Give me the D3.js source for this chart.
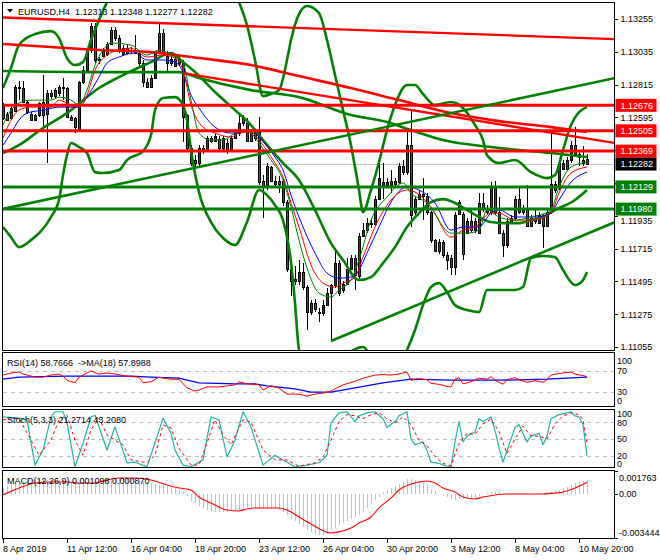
<!DOCTYPE html>
<html><head><meta charset="utf-8">
<script src="https://cdn.jsdelivr.net/npm/d3@7/dist/d3.min.js"></script>
<style>
html,body{margin:0;padding:0;background:#fff}
svg{display:block}
text{font-family:"Liberation Sans",Arial,sans-serif;font-size:9px;fill:#000;white-space:pre}
</style></head><body>
<svg id="chart" width="660" height="560"></svg>
<script>
// ---------------- DATA ----------------
const timeLabels = ["8 Apr 2019","11 Apr 12:00","16 Apr 04:00","18 Apr 20:00","23 Apr 12:00","26 Apr 04:00","30 Apr 20:00","3 May 12:00","8 May 04:00","10 May 20:00"];
const priceTicks = [1.13255,1.13035,1.12815,1.12595,1.12375,1.12155,1.11935,1.11715,1.11495,1.11275,1.11055];
const resistance = [1.12676,1.12505,1.12369];
const support = [1.12129,1.11980];
const lastPrice = 1.12282;

const open = [1.1267,1.1262,1.1259,1.1264,1.1279,1.1279,1.1270,1.1262,1.1258,1.1261,
1.1270,1.1262,1.1276,1.1274,1.1276,1.1279,1.1279,1.1260,1.1259,1.1252,
1.1283,1.1291,1.1305,1.1321,1.1299,1.1301,1.1302,1.1309,1.1318,1.1313,
1.1302,1.1306,1.1304,1.1305,1.1303,1.1296,1.1283,1.1280,1.1286,1.1303,
1.1316,1.1301,1.1296,1.1294,1.1299,1.1296,1.1261,1.1239,1.1231,1.1229,
1.1237,1.1237,1.1246,1.1244,1.1245,1.1239,1.1242,1.1238,1.1246,1.1249,
1.1259,1.1256,1.1250,1.1250,1.1250,1.1217,1.1213,1.1226,1.1217,1.1217,
1.1217,1.1203,1.1158,1.1150,1.1150,1.1156,1.1146,1.1129,1.1135,1.1128,
1.1128,1.1134,1.1142,1.1147,1.1162,1.1144,1.1148,1.1158,1.1165,1.1153,
1.1180,1.1184,1.1189,1.1188,1.1205,1.1214,1.1216,1.1214,1.1217,1.1216,
1.1227,1.1223,1.1241,1.1196,1.1205,1.1208,1.1207,1.1196,1.1177,1.1170,
1.1176,1.1167,1.1165,1.1159,1.1195,1.1195,1.1182,1.1190,1.1184,1.1182,
1.1202,1.1199,1.1196,1.1213,1.1196,1.1182,1.1174,1.1189,1.1192,1.1205,
1.1198,1.1198,1.1187,1.1190,1.1189,1.1194,1.1187,1.1196,1.1215,1.1212,
1.1225,1.1225,1.1231,1.1241,1.1235,1.1231,1.12313];
const high = [1.1269,1.1263,1.1267,1.1281,1.1284,1.1284,1.1271,1.1263,1.1262,1.1270,
1.1288,1.1278,1.1278,1.1279,1.1281,1.1286,1.1280,1.1261,1.1260,1.1284,
1.1294,1.1306,1.1323,1.1323,1.1300,1.1306,1.1310,1.1320,1.1320,1.1315,
1.1308,1.1308,1.1307,1.1315,1.1304,1.1298,1.1286,1.1288,1.1304,1.1323,
1.1319,1.1304,1.1301,1.1301,1.1301,1.1298,1.1262,1.1241,1.1234,1.1241,
1.1241,1.1247,1.1247,1.1249,1.1247,1.1247,1.1245,1.1247,1.1252,1.1261,
1.1261,1.1259,1.1252,1.1252,1.1260,1.1221,1.1229,1.1227,1.1220,1.1220,
1.1219,1.1204,1.1164,1.1160,1.1164,1.1162,1.1147,1.1137,1.1138,1.1132,
1.1137,1.1145,1.1148,1.1172,1.1164,1.1150,1.1165,1.1167,1.1167,1.1182,
1.1189,1.1192,1.1192,1.1207,1.1229,1.1229,1.1219,1.1224,1.1219,1.1229,
1.1231,1.1250,1.1264,1.1207,1.1211,1.1219,1.1209,1.1197,1.1178,1.1178,
1.1177,1.1169,1.1167,1.1196,1.1204,1.1196,1.1192,1.1199,1.1192,1.1209,
1.1209,1.1201,1.1216,1.1217,1.1206,1.1184,1.1192,1.1194,1.1207,1.1212,
1.1201,1.1214,1.1194,1.1198,1.1196,1.1195,1.1198,1.1251,1.1217,1.1231,
1.1231,1.1233,1.1244,1.1253,1.1237,1.1240,1.12348];
const low = [1.1258,1.1257,1.1258,1.1263,1.1271,1.1269,1.1262,1.1258,1.1257,1.1260,
1.1253,1.1229,1.1272,1.1272,1.1274,1.1271,1.1259,1.1257,1.1249,1.1252,
1.1282,1.1290,1.1303,1.1296,1.1295,1.1300,1.1301,1.1308,1.1311,1.1303,
1.1301,1.1302,1.1302,1.1302,1.1294,1.1280,1.1279,1.1279,1.1285,1.1302,
1.1301,1.1290,1.1294,1.1293,1.1294,1.1243,1.1237,1.1227,1.1226,1.1227,
1.1235,1.1236,1.1242,1.1243,1.1236,1.1237,1.1235,1.1237,1.1245,1.1247,
1.1254,1.1243,1.1243,1.1244,1.1214,1.1192,1.1211,1.1216,1.1213,1.1209,
1.1200,1.1156,1.1140,1.1147,1.1147,1.1144,1.1117,1.1127,1.1129,1.1122,
1.1126,1.1133,1.1109,1.1145,1.1140,1.1142,1.1147,1.1157,1.1144,1.1151,
1.1179,1.1182,1.1185,1.1187,1.1204,1.1205,1.1212,1.1209,1.1213,1.1215,
1.1221,1.1221,1.1186,1.1194,1.1204,1.1191,1.1194,1.1175,1.1169,1.1168,
1.1165,1.1157,1.1154,1.1154,1.1194,1.1164,1.1181,1.1182,1.1182,1.1181,
1.1196,1.1194,1.1194,1.1194,1.1181,1.1166,1.1172,1.1188,1.1190,1.1195,
1.1194,1.1186,1.1186,1.1188,1.1188,1.1172,1.1186,1.1195,1.1209,1.1211,
1.1224,1.1224,1.1229,1.1233,1.1227,1.1227,1.12277];
const close = [1.1259,1.1258,1.1266,1.1280,1.1280,1.1270,1.1263,1.1258,1.1261,1.1269,
1.1261,1.1276,1.1274,1.1278,1.1280,1.1280,1.1260,1.1258,1.1253,1.1283,
1.1291,1.1305,1.1321,1.1298,1.1298,1.1305,1.1309,1.1318,1.1313,1.1305,
1.1306,1.1303,1.1305,1.1303,1.1296,1.1283,1.1280,1.1286,1.1303,1.1316,
1.1303,1.1296,1.1299,1.1299,1.1296,1.1260,1.1239,1.1229,1.1229,1.1239,
1.1239,1.1246,1.1244,1.1247,1.1239,1.1246,1.1237,1.1246,1.1249,1.1256,
1.1256,1.1244,1.1244,1.1246,1.1216,1.1213,1.1227,1.1217,1.1215,1.1215,
1.1203,1.1158,1.1150,1.1151,1.1156,1.1146,1.1129,1.1135,1.1131,1.1129,
1.1134,1.1142,1.1147,1.1162,1.1142,1.1148,1.1158,1.1165,1.1154,1.1180,
1.1184,1.1189,1.1188,1.1205,1.1219,1.1216,1.1214,1.1217,1.1215,1.1227,
1.1223,1.1241,1.1194,1.1205,1.1208,1.1207,1.1196,1.1177,1.1170,1.1176,
1.1167,1.1164,1.1159,1.1194,1.1203,1.1168,1.1190,1.1184,1.1190,1.1202,
1.1198,1.1196,1.1213,1.1196,1.1182,1.1174,1.1190,1.1192,1.1205,1.1196,
1.1196,1.1187,1.1192,1.1192,1.1194,1.1187,1.1196,1.1215,1.1211,1.1229,
1.1229,1.1231,1.1241,1.1235,1.1233,1.1229,1.12282];

// indicator lines: [bar index, value]
const redLongMA = [[0,1.13087],[12,1.13067],[24,1.13047],[37,1.13033],[49,1.12993],[62,1.12946],[74,1.12872],[87,1.12792],[99,1.12711],[112,1.12624],[124,1.12570],[137,1.12530],[146,1.12497]];
const greenLongMA = [[0,1.12906],[24,1.12899],[44,1.12899],[49,1.12859],[62,1.12778],[74,1.12731],[87,1.12611],[96,1.12564],[102,1.12510],[110,1.12443],[122,1.12396],[137,1.12356],[146,1.12329]];
const bandMid = [[0,1.12356],[4,1.12409],[10,1.12524],[16,1.12624],[24,1.12792],[30,1.12879],[37,1.12966],[42,1.13027],[45,1.12966],[48,1.12899],[53,1.12765],[58,1.12644],[62,1.12544],[65,1.12443],[70,1.12289],[74,1.12175],[78,1.11974],[82,1.11752],[85,1.11638],[89,1.11504],[92,1.11524],[95,1.11618],[98,1.11725],[101,1.11860],[104,1.11953],[107,1.12027],[110,1.12047],[113,1.12021],[116,1.11974],[119,1.11927],[122,1.11893],[125,1.11886],[129,1.11886],[132,1.11906],[135,1.11927],[138,1.11974],[143,1.12041],[146,1.12108]];
const bandUp = [[0,1.12792],[2,1.12926],[4,1.13080],[8,1.13154],[12,1.13174],[14,1.13127],[16,1.12993],[18,1.12946],[20,1.12966],[22,1.13114],[24,1.13248],[26,1.13369],[28,1.13483],[37,1.13784],[49,1.13784],[56,1.13516],[59,1.13369],[61,1.13214],[63,1.12980],[65,1.12738],[67,1.12752],[69,1.12778],[71,1.12980],[72,1.13114],[74,1.13288],[76,1.13342],[79,1.13295],[81,1.13114],[83,1.12879],[85,1.12644],[87,1.12409],[89,1.12108],[90,1.11960],[92,1.12108],[94,1.12295],[96,1.12510],[98,1.12678],[101,1.12812],[103,1.12812],[105,1.12752],[108,1.12678],[112,1.12698],[115,1.12658],[118,1.12544],[120,1.12443],[121,1.12342],[124,1.12289],[128,1.12309],[132,1.12228],[136,1.12188],[138,1.12208],[140,1.12376],[142,1.12544],[144,1.12631],[146,1.12664]];
const bandLow = [[0,1.11860],[2,1.11792],[4,1.11725],[7,1.11772],[12,1.11927],[14,1.12041],[15,1.12208],[16,1.12342],[17,1.12423],[19,1.12396],[21,1.12356],[23,1.12228],[25,1.12222],[29,1.12242],[31,1.12309],[35,1.12369],[37,1.12477],[38,1.12644],[40,1.12725],[43,1.12731],[45,1.12678],[46,1.12577],[47,1.12376],[49,1.12094],[52,1.11893],[55,1.11786],[58,1.11739],[61,1.11893],[64,1.12108],[66,1.12074],[68,1.12007],[70,1.11906],[72,1.11625],[73,1.11350],[74,1.11035],[77,1.10833],[90,1.11055],[95,1.10833],[101,1.11035],[103,1.11169],[105,1.11336],[107,1.11457],[109,1.11484],[111,1.11424],[113,1.11336],[116,1.11303],[119,1.11289],[121,1.11437],[124,1.11437],[128,1.11437],[130,1.11457],[132,1.11652],[135,1.11665],[138,1.11658],[140,1.11571],[143,1.11471],[145,1.11504],[146,1.11558]];
const fastGreen = [[0,1.12544],[2,1.12644],[4,1.12691],[7,1.12711],[12,1.12711],[14,1.12731],[17,1.12711],[19,1.12678],[21,1.12778],[23,1.12946],[25,1.13047],[27,1.13094],[32,1.13080],[36,1.13013],[39,1.13047],[42,1.13013],[45,1.12959],[47,1.12711],[49,1.12490],[52,1.12443],[55,1.12443],[58,1.12490],[60,1.12510],[62,1.12490],[64,1.12423],[67,1.12309],[70,1.12175],[72,1.11994],[74,1.11772],[76,1.11585],[79,1.11417],[82,1.11390],[84,1.11437],[87,1.11504],[89,1.11638],[92,1.11906],[96,1.12061],[100,1.12155],[102,1.12088],[106,1.12021],[112,1.11819],[116,1.11819],[119,1.11839],[121,1.11974],[124,1.11927],[128,1.11906],[132,1.11927],[137,1.11974],[139,1.12128],[142,1.12262],[146,1.12295]];
const midRed = [[0,1.12456],[2,1.12577],[4,1.12644],[7,1.12664],[12,1.12664],[14,1.12711],[16,1.12691],[19,1.12664],[21,1.12745],[23,1.12912],[26,1.13013],[29,1.13047],[32,1.13060],[36,1.13000],[40,1.13013],[43,1.12993],[45,1.12912],[47,1.12678],[50,1.12530],[53,1.12490],[57,1.12463],[59,1.12490],[62,1.12497],[64,1.12443],[68,1.12289],[70,1.12195],[72,1.12021],[74,1.11860],[77,1.11605],[80,1.11484],[83,1.11457],[85,1.11484],[88,1.11524],[90,1.11658],[93,1.11860],[97,1.12041],[101,1.12108],[103,1.12094],[107,1.11994],[112,1.11792],[115,1.11839],[118,1.11860],[122,1.11953],[124,1.11953],[128,1.11906],[132,1.11906],[137,1.11953],[139,1.12088],[142,1.12222],[146,1.12262]];
const slowBlue = [[0,1.12409],[2,1.12490],[4,1.12577],[6,1.12624],[10,1.12644],[14,1.12664],[19,1.12664],[21,1.12731],[24,1.12866],[26,1.12959],[29,1.13000],[33,1.13027],[36,1.12980],[40,1.12980],[43,1.12966],[45,1.12899],[47,1.12745],[49,1.12658],[53,1.12530],[57,1.12490],[60,1.12497],[62,1.12510],[64,1.12463],[68,1.12329],[70,1.12242],[72,1.12074],[74,1.11927],[78,1.11685],[81,1.11551],[84,1.11517],[87,1.11524],[89,1.11571],[91,1.11685],[94,1.11860],[97,1.12027],[101,1.12128],[104,1.12108],[108,1.12021],[112,1.11839],[115,1.11860],[119,1.11860],[122,1.11953],[124,1.11974],[128,1.11927],[133,1.11927],[137,1.11953],[139,1.12041],[142,1.12161],[146,1.12228]];

// trend lines: [bar index, price] end points
const redTrend1 = [[-0.25,1.13265],[153,1.13120]];
const redTrend2 = [[45,1.12892],[153,1.12423]];
const greenTrend1 = [[-0.25,1.11980],[153,1.12859]];
const greenTrend2 = [[82,1.11095],[153,1.11893]];

// RSI(14) and its MA(18)
const rsi = [[0,62],[2,66],[4,68],[5,64],[8,58],[10,58],[12,62],[14,64],[15,60],[16,52],[18,47],[19,58],[22,70],[24,64],[26,66],[28,64],[31,60],[34,58],[35,47],[37,49],[39,58],[40,56],[42,54],[44,54],[46,37],[48,31],[49,33],[51,39],[54,39],[58,43],[59,49],[61,45],[64,43],[65,33],[67,41],[69,37],[71,25],[74,25],[76,21],[78,25],[80,27],[82,31],[85,43],[88,50],[90,56],[93,62],[95,63],[97,62],[99,64],[101,68],[102,52],[104,55],[106,53],[107,46],[109,44],[111,40],[112,39],[113,54],[114,57],[115,45],[117,49],[119,56],[121,54],[122,59],[123,52],[125,44],[126,53],[128,57],[129,53],[131,48],[133,51],[135,48],[136,53],[137,62],[139,65],[142,68],[143,64],[145,61],[146,58.77]];
const rsiMA = [[0,54],[4,58],[16,60],[32,60],[37,58],[44,56],[46,52],[49,47],[58,45],[63,45],[66,41],[73,35],[77,29],[82,29],[88,37],[95,47],[102,54],[112,52],[124,52],[136,54],[146,57.9]];
const rsiLevels = [70,30];

// Stochastic(5,3,3)
const stochK = [[0,88],[4,86],[6,83],[8,5],[10,31],[12,88],[13,97],[15,97],[16,78],[18,2],[20,43],[22,88],[23,91],[26,31],[28,71],[31,9],[33,10],[36,2],[38,43],[40,86],[42,60],[43,31],[45,5],[47,2],[50,14],[52,88],[54,83],[56,19],[58,48],[60,97],[62,71],[65,5],[68,22],[71,10],[73,2],[76,5],[79,9],[81,22],[82,78],[84,95],[86,97],[88,80],[89,90],[91,95],[93,97],[95,85],[96,70],[98,80],[99,90],[101,97],[102,50],[103,40],[105,45],[106,30],[107,10],[109,8],[111,3],[112,2],[113,45],[114,80],[115,45],[116,55],[118,62],[119,85],[120,80],[122,88],[123,65],[124,35],[125,10],[126,30],[128,70],[129,75],[131,45],[132,55],[134,60],[135,40],[136,55],[137,85],[139,92],[141,95],[142,97],[143,90],[144,88],[145,75],[146,21.27]];
const stochD = [[0,83],[4,86],[7,48],[9,22],[12,48],[14,83],[16,91],[18,48],[20,22],[22,66],[24,86],[26,57],[28,48],[30,40],[32,14],[36,9],[38,22],[40,74],[42,69],[44,34],[47,5],[49,5],[51,43],[53,83],[55,57],[57,40],[60,83],[62,79],[65,31],[68,14],[71,14],[74,3],[78,9],[80,19],[82,48],[84,80],[86,92],[88,90],[90,85],[92,92],[94,95],[96,85],[98,78],[100,88],[102,75],[104,48],[106,38],[108,20],[110,8],[112,4],[114,42],[116,60],[118,58],[120,76],[122,84],[124,63],[126,25],[128,50],[130,72],[132,55],[134,55],[136,50],[138,76],[140,90],[142,95],[144,92],[145,84],[146,43.21]];
const stochLevels = [80,50,20];

// MACD(12,26,9): main (histogram) per bar and signal line
const macdMain = [0.00047,0.00062,0.00073,0.00085,0.00092,0.00099,0.00104,0.00109,0.00110,0.00113,
0.00112,0.00109,0.00105,0.00104,0.00106,0.00103,0.00099,0.00092,0.00086,0.00082,
0.00081,0.00081,0.00086,0.00092,0.00098,0.00102,0.00106,0.00116,0.00122,0.00124,
0.00123,0.00120,0.00116,0.00112,0.00107,0.00100,0.00089,0.00085,0.00078,0.00070,
0.00066,0.00062,0.00053,0.00043,0.00032,0.00010,-0.00020,-0.00055,-0.00075,-0.00092,
-0.00113,-0.00126,-0.00136,-0.00140,-0.00140,-0.00140,-0.00140,-0.00137,-0.00131,-0.00128,
-0.00120,-0.00113,-0.00110,-0.00109,-0.00109,-0.00109,-0.00109,-0.00111,-0.00118,-0.00125,
-0.00145,-0.00166,-0.00193,-0.00214,-0.00237,-0.00260,-0.00282,-0.00299,-0.00312,-0.00320,
-0.00322,-0.00310,-0.00282,-0.00265,-0.00245,-0.00230,-0.00215,-0.00200,-0.00185,-0.00165,
-0.00140,-0.00110,-0.00080,-0.00050,-0.00025,0.00016,0.00030,0.00045,0.00060,0.00075,
0.00093,0.00115,0.00115,0.00103,0.00095,0.00085,0.00068,0.00040,0.00020,-0.00002,
-0.00015,-0.00026,-0.00042,-0.00048,-0.00043,-0.00039,-0.00036,-0.00034,-0.00030,-0.00020,
-0.00005,0.00005,0.00012,0.00012,0.00010,0.00008,0.00006,0.00005,0.00004,0.00003,
0.00003,0.00002,0.00001,0.00001,0.00003,0.00005,0.00010,0.00015,0.00020,0.00032,
0.00042,0.00053,0.00066,0.00080,0.00092,0.00099,0.00110];
const macdSignal = [[0,-0.00010],[4,0.00044],[8,0.00083],[12,0.00091],[16,0.00091],[19,0.00083],[23,0.00083],[25,0.00099],[29,0.00122],[33,0.00122],[37,0.00106],[41,0.00068],[44,0.00044],[47,0.00029],[49,-0.00026],[52,-0.00072],[56,-0.00127],[59,-0.00134],[61,-0.00119],[64,-0.00111],[69,-0.00111],[72,-0.00142],[74,-0.00181],[77,-0.00235],[82,-0.00305],[84,-0.00297],[87,-0.00267],[89,-0.00228],[92,-0.00181],[94,-0.00111],[97,-0.00033],[99,0.00029],[102,0.00075],[104,0.00091],[106,0.00099],[108,0.00083],[110,0.00044],[113,0.00013],[115,-0.00026],[118,-0.00041],[120,-0.00026],[123,-0.00010],[126,-0.00002],[132,-0.00002],[135,-0.00002],[138,0.00005],[140,0.00013],[143,0.00044],[146,0.00087]];
const macdAxis = [0.001763,0.0,-0.003444];

// ---------------- DRAWING ----------------
const svg = d3.select("#chart");
const x = d3.scaleLinear().domain([0,146]).range([3,587]);
const yMain = d3.scaleLinear().domain([1.11035,1.13369]).range([350,2]);
const yRsi = d3.scaleLinear().domain([0,100]).range([407,355.5]);
const ySto = d3.scaleLinear().domain([0,100]).range([468,410]);
const yMacd = d3.scaleLinear().domain([-0.003444,0.001763]).range([538,471]);
const px = i => Math.round(x(i)) + 0.5;

const defs = svg.append("defs");
function clip(id, top, bottom){
  defs.append("clipPath").attr("id",id).append("rect")
    .attr("x",3).attr("y",top).attr("width",611).attr("height",bottom-top);
}
clip("cMain",3,350); clip("cRsi",353,406); clip("cSto",410,467); clip("cMacd",471,538);

const GREEN = "#008000", RED = "#ff0000", BLUE = "#0000ff", SILVER = "#c0c0c0";

function path(g, data, ys, color, width, curve, dash){
  const p = g.append("path").datum(data)
    .attr("d", d3.line().x(d=>x(d[0])).y(d=>ys(d[1])).curve(curve || d3.curveLinear))
    .attr("fill","none").attr("stroke",color).attr("stroke-width",width)
    .attr("stroke-linejoin","round");
  if (dash) p.attr("stroke-dasharray",dash);
  return p;
}

// ----- main panel -----
const gMain = svg.append("g").attr("clip-path","url(#cMain)");
gMain.append("line").attr("x1",3).attr("x2",614).attr("y1",Math.round(yMain(lastPrice))+0.5).attr("y2",Math.round(yMain(lastPrice))+0.5)
  .attr("stroke",SILVER).attr("stroke-width",1);

const candles = close.map((c,i)=>({i, o:open[i], h:high[i], l:low[i], c}));
const gC = gMain.append("g").attr("shape-rendering","crispEdges");
gC.selectAll("line.w").data(candles).join("line").attr("class","w")
  .attr("x1",d=>px(d.i)).attr("x2",d=>px(d.i))
  .attr("y1",d=>yMain(d.h)).attr("y2",d=>yMain(d.l))
  .attr("stroke","#000").attr("stroke-width",1);
gC.selectAll("rect.b").data(candles).join("rect").attr("class","b")
  .attr("x",d=>Math.round(x(d.i))-0.5).attr("width",2)
  .attr("y",d=>Math.round(yMain(Math.max(d.o,d.c)))+0.5)
  .attr("height",d=>Math.max(1, Math.round(yMain(Math.min(d.o,d.c))) - Math.round(yMain(Math.max(d.o,d.c)))))
  .attr("fill",d=>d.c>=d.o ? "#006400" : RED)
  .attr("stroke","#000").attr("stroke-width",1);

const smooth = d3.curveMonotoneX;
path(gMain, bandUp, yMain, GREEN, 2.6, smooth);
path(gMain, bandLow, yMain, GREEN, 2.6, smooth);
path(gMain, bandMid, yMain, GREEN, 2.6, smooth);
path(gMain, greenLongMA, yMain, GREEN, 2.6, smooth);
path(gMain, redLongMA, yMain, RED, 2.6, smooth);
path(gMain, slowBlue, yMain, BLUE, 1, smooth);
path(gMain, midRed, yMain, RED, 1, smooth);
path(gMain, fastGreen, yMain, GREEN, 1, smooth);

resistance.forEach(v=>{
  gMain.append("line").attr("x1",3).attr("x2",614).attr("y1",yMain(v)).attr("y2",yMain(v))
    .attr("stroke",RED).attr("stroke-width",3);
});
support.forEach(v=>{
  gMain.append("line").attr("x1",3).attr("x2",614).attr("y1",yMain(v)).attr("y2",yMain(v))
    .attr("stroke",GREEN).attr("stroke-width",3);
});
path(gMain, redTrend1, yMain, RED, 2.4);
path(gMain, redTrend2, yMain, RED, 2.4);
path(gMain, greenTrend1, yMain, GREEN, 2.6);
path(gMain, greenTrend2, yMain, GREEN, 2.6);

// title
svg.append("path").attr("d","M7,9 L13,9 L10,12.5 Z").attr("fill","#000");
svg.append("text").attr("x",18).attr("y",15).text("EURUSD,H4  1.12313 1.12348 1.12277 1.12282");

// ----- RSI panel -----
const gR = svg.append("g").attr("clip-path","url(#cRsi)");
rsiLevels.forEach(v=>{
  gR.append("line").attr("x1",3).attr("x2",614).attr("y1",Math.round(yRsi(v))+0.5).attr("y2",Math.round(yRsi(v))+0.5)
    .attr("stroke",SILVER).attr("stroke-dasharray","4,4");
});
path(gR, rsiMA, yRsi, BLUE, 1.3);
path(gR, rsi, yRsi, RED, 1);
svg.append("text").attr("x",7).attr("y",366).text("RSI(14) 58.7666  ->MA(18) 57.8988");

// ----- Stochastic panel -----
const gS = svg.append("g").attr("clip-path","url(#cSto)");
stochLevels.forEach(v=>{
  gS.append("line").attr("x1",3).attr("x2",614).attr("y1",Math.round(ySto(v))+0.5).attr("y2",Math.round(ySto(v))+0.5)
    .attr("stroke",SILVER).attr("stroke-dasharray","4,4");
});
path(gS, stochK, ySto, "#20b2aa", 1.2);
path(gS, stochD, ySto, RED, 1, null, "3,3");
svg.append("text").attr("x",7).attr("y",423).text("Stoch(5,3,3) 21.2714 43.2080");

// ----- MACD panel -----
const gM = svg.append("g").attr("clip-path","url(#cMacd)");
gM.append("g").attr("shape-rendering","crispEdges").selectAll("line").data(macdMain).join("line")
  .attr("x1",(d,i)=>px(i)).attr("x2",(d,i)=>px(i))
  .attr("y1",yMacd(0)).attr("y2",d=>yMacd(d))
  .attr("stroke",SILVER).attr("stroke-width",1);
path(gM, macdSignal, yMacd, RED, 1.1, d3.curveMonotoneX);
svg.append("text").attr("x",7).attr("y",484).text("MACD(12,26,9) 0.001098 0.000870");

// ----- frames -----
const frames = [[2.5,350.5],[352.5,406.5],[409.5,467.5],[470.5,538.5]];
svg.append("g").attr("shape-rendering","crispEdges").selectAll("rect").data(frames).join("rect")
  .attr("x",2.5).attr("y",d=>d[0]).attr("width",612).attr("height",d=>d[1]-d[0])
  .attr("fill","none").attr("stroke","#000").attr("stroke-width",1);

// ----- right price axis -----
const gA = svg.append("g");
const boxed = resistance.concat(support, [lastPrice]);
priceTicks.forEach(v=>{
  const yy = yMain(v);
  gA.append("line").attr("x1",614.5).attr("x2",618).attr("y1",Math.round(yy)+0.5).attr("y2",Math.round(yy)+0.5).attr("stroke","#000");
  // labels hidden behind a price box in the reference are not written
  if (boxed.some(b=>Math.abs(yMain(b)-yy) < 6)) return;
  const yt = boxed.some(b=>Math.abs(yMain(b)-yy) < 9) ? yy+8 : yy+3.3;
  gA.append("text").attr("x",620.5).attr("y",yt).text(d3.format(".5f")(v));
});
function priceBox(v, color){
  const yy = yMain(v);
  gA.append("rect").attr("x",615.5).attr("y",yy-6.5).attr("width",41).attr("height",13).attr("fill",color);
  gA.append("text").attr("x",620.5).attr("y",yy+3.3).style("fill","#fff").text(d3.format(".5f")(v));
}
resistance.forEach(v=>priceBox(v, RED));
priceBox(lastPrice, "#000");
support.forEach(v=>priceBox(v, GREEN));

// RSI axis labels
[[100,360.5],[70,yRsi(70)],[30,yRsi(30)],[0,400.5]].forEach(([t,yy])=>{
  gA.append("text").attr("x",617).attr("y",yy+3.3).text(String(t));
});
// Stoch axis labels
[[100,413.5],[80,ySto(80)+1],[50,ySto(50)],[20,ySto(20)-1],[0,464]].forEach(([t,yy])=>{
  gA.append("text").attr("x",617).attr("y",yy+3.3).text(String(t));
});
// MACD axis labels
[[macdAxis[0],"0.001763",477.5],[macdAxis[1],"0.00",yMacd(0)],[macdAxis[2],"-0.003444",532.5]].forEach(([v,t,yy])=>{
  gA.append("line").attr("x1",614.5).attr("x2",618).attr("y1",Math.round(yMacd(v))+0.5).attr("y2",Math.round(yMacd(v))+0.5).attr("stroke","#000");
  gA.append("text").attr("x",619).attr("y",yy+3.3).text(t);
});

// ----- time axis -----
timeLabels.forEach((t,k)=>{
  const xx = px(k*16);
  gA.append("line").attr("x1",xx).attr("x2",xx).attr("y1",538.5).attr("y2",543).attr("stroke","#000");
  gA.append("text").attr("x",Math.round(x(k*16))).attr("y",552).text(t);
});
</script></body></html>
